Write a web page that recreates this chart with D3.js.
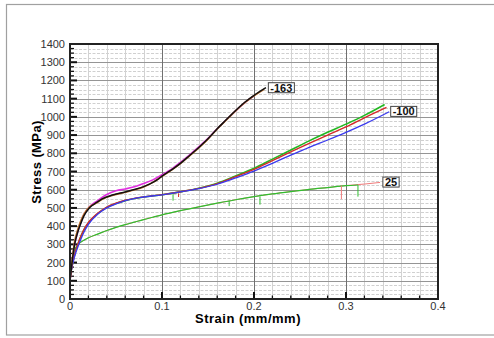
<!DOCTYPE html>
<html><head><meta charset="utf-8">
<script src="https://cdn.jsdelivr.net/npm/d3@7"></script>
<style>body{margin:0;background:#fff}svg{display:block}text{font-family:"Liberation Sans",Arial,sans-serif}</style>
</head><body><svg id="c" width="494" height="338"></svg>
<script>
// ---- data ----
const xTicks = [0, 0.1, 0.2, 0.3, 0.4];
const xTickLabels = ["0", "0.1", "0.2", "0.3", "0.4"];
const yTicks = [0,100,200,300,400,500,600,700,800,900,1000,1100,1200,1300,1400];

// -163 °C
const strainM163a = [0,0.002,0.005,0.008,0.011,0.015,0.021,0.029,0.035,0.047,0.06,0.069,0.08,0.087,0.095,0.1,0.11,0.12,0.13,0.14,0.15,0.16,0.17,0.18,0.19,0.2,0.213];
const stressM163a = [100,190,300,360,405,455,500,530,550,572,588,600,617,632,655,675,708,745,788,832,880,935,985,1035,1080,1118,1160];
const strainM163b = [0,0.002,0.005,0.008,0.011,0.015,0.021,0.03,0.04,0.05,0.06,0.07,0.08,0.09,0.1,0.11,0.12,0.13,0.14,0.15,0.16,0.17,0.18,0.19,0.2];
const stressM163b = [100,190,300,362,410,460,505,540,574,594,604,616,634,654,682,712,750,792,835,882,935,984,1033,1078,1115];
const strainM163c = [0,0.002,0.005,0.008,0.011,0.015,0.021,0.029,0.035,0.047,0.06,0.069,0.08,0.09,0.1,0.11,0.12,0.13,0.14,0.15,0.16,0.17,0.18,0.19,0.2,0.211];
const stressM163c = [100,200,315,375,420,465,505,528,548,570,586,598,615,640,673,706,743,786,830,878,933,983,1033,1078,1116,1152];

// -100 °C
const strainM100g = [0,0.003,0.006,0.01,0.015,0.02,0.03,0.04,0.05,0.06,0.08,0.1,0.12,0.14,0.16,0.18,0.2,0.22,0.24,0.26,0.28,0.3,0.32,0.342];
const stressM100g = [120,200,262,320,378,418,468,503,524,540,560,572,588,608,636,676,718,768,818,868,915,960,1008,1068];
const strainM100r = [0,0.003,0.006,0.01,0.015,0.02,0.03,0.04,0.05,0.06,0.08,0.1,0.12,0.14,0.16,0.18,0.2,0.22,0.24,0.26,0.28,0.3,0.32,0.344];
const stressM100r = [120,200,262,322,380,420,470,505,526,542,561,573,589,607,633,672,712,760,808,855,900,945,995,1052];
const strainM100b = [0,0.003,0.006,0.01,0.015,0.02,0.03,0.04,0.05,0.06,0.08,0.1,0.12,0.14,0.16,0.18,0.2,0.22,0.24,0.26,0.28,0.3,0.32,0.347];
const stressM100b = [120,195,250,305,365,410,465,500,522,540,560,572,588,606,630,665,702,745,790,833,873,915,960,1028];

// 25 °C
const strain25g = [0,0.002,0.005,0.01,0.015,0.02,0.03,0.04,0.05,0.06,0.07,0.08,0.09,0.1,0.12,0.14,0.16,0.18,0.2,0.22,0.24,0.26,0.28,0.3,0.313];
const stress25g = [100,200,268,305,322,336,356,376,393,408,422,436,449,462,485,506,526,545,562,577,590,602,612,622,626];
const strain25r = [0,0.002,0.005,0.01,0.015,0.02,0.03,0.04,0.05,0.06,0.07,0.08,0.09,0.1,0.12,0.14,0.16,0.18,0.2,0.22,0.24,0.26,0.28,0.3,0.32,0.337];
const stress25r = [100,200,268,305,322,336,356,376,393,408,422,436,449,462,485,506,526,545,562,577,590,602,612,623,631,640];

// drop spikes: strain, stress top, stress bottom
const spikeStrain = [0.112, 0.118, 0.173, 0.2065, 0.295, 0.313];
const spikeTop    = [576, 580, 540, 562, 622, 626];
const spikeBottom = [540, 560, 510, 518, 548, 562];
const spikeColor  = ["#2fbf2f", "#d42a2a", "#2fbf2f", "#2fbf2f", "#f07a7a", "#2fbf2f"];

const labels = ["-163", "-100", "25"];
const labelStrain = [0.2145, 0.3475, 0.339];
const labelStress = [1160, 1030, 642];

// ---- drawing ----
const svg = d3.select("#c");
const L = 70, R = 438, T = 44, B = 299;
const x = d3.scaleLinear().domain([0, 0.4]).range([L, R]);
const y = d3.scaleLinear().domain([0, 1400]).range([B, T]);

// outer frame
svg.append("rect").attr("x", 6.5).attr("y", 4.5).attr("width", 500).attr("height", 330.5)
  .attr("fill", "none").attr("stroke", "#a0a0a0").attr("stroke-width", 1.2);

const g = svg.append("g");
const minorY = d3.range(25, 1400, 25).filter(v => v % 100 !== 0);
const minorX = d3.range(1, 20).map(i => i * 0.02).filter((v, i) => (i + 1) % 5 !== 0);
// minor horizontal dashed lines every 25
g.selectAll(".hmin").data(minorY).join("line")
  .attr("x1", L).attr("x2", R).attr("y1", d => Math.round(y(d)) + 0.5).attr("y2", d => Math.round(y(d)) + 0.5)
  .attr("stroke", "#d0d0d0").attr("stroke-dasharray", "3,1.5").attr("stroke-width", 1);
// minor vertical lines every 0.02
g.selectAll(".vmin").data(minorX).join("line")
  .attr("y1", T).attr("y2", B).attr("x1", d => Math.round(x(d)) + 0.5).attr("x2", d => Math.round(x(d)) + 0.5)
  .attr("stroke", "#d2d2d2").attr("stroke-width", 1);
// major horizontal
g.selectAll(".hmaj").data(yTicks.slice(1, -1)).join("line")
  .attr("x1", L).attr("x2", R).attr("y1", d => Math.round(y(d)) + 0.5).attr("y2", d => Math.round(y(d)) + 0.5)
  .attr("stroke", "#959595").attr("stroke-width", 1);
// major vertical
g.selectAll(".vmaj").data(xTicks.slice(1, -1)).join("line")
  .attr("y1", T).attr("y2", B).attr("x1", d => Math.round(x(d)) + 0.5).attr("x2", d => Math.round(x(d)) + 0.5)
  .attr("stroke", "#707070").attr("stroke-width", 1);

// ticks
g.selectAll(".ytm").data(yTicks.slice(1, -1)).join("line")
  .attr("x1", L).attr("x2", L + 7).attr("y1", d => y(d)).attr("y2", d => y(d))
  .attr("stroke", "#111").attr("stroke-width", 2);
g.selectAll(".ytn").data(minorY).join("line")
  .attr("x1", L).attr("x2", L + 4).attr("y1", d => y(d)).attr("y2", d => y(d))
  .attr("stroke", "#111").attr("stroke-width", 1.3);
g.selectAll(".xtm").data(xTicks.slice(1, -1)).join("line")
  .attr("x1", d => x(d)).attr("x2", d => x(d)).attr("y1", B).attr("y2", B - 7)
  .attr("stroke", "#111").attr("stroke-width", 2);
g.selectAll(".xtn").data(minorX).join("line")
  .attr("x1", d => x(d)).attr("x2", d => x(d)).attr("y1", B).attr("y2", B - 3.5)
  .attr("stroke", "#111").attr("stroke-width", 1.3);

// curves
const line = d3.line().x(d => x(d[0])).y(d => y(d[1])).curve(d3.curveMonotoneX);
const series = [
  [strain25r, stress25r, "#f07a7a", 1],
  [strain25g, stress25g, "#2fbf2f", 1.2],
  [strainM100g, stressM100g, "#22b822", 1.6],
  [strainM100r, stressM100r, "#d42a2a", 1.4],
  [strainM100b, stressM100b, "#3a3aee", 1.3],
  [strainM163b, stressM163b, "#e030e0", 1.6],
  [strainM163c, stressM163c, "#c0702a", 1.6],
  [strainM163a, stressM163a, "#111111", 1.5]
];
series.forEach(s => {
  g.append("path").datum(s[0].map((v, i) => [v, s[1][i]])).attr("d", line)
    .attr("fill", "none").attr("stroke", s[2]).attr("stroke-width", s[3]);
});
g.selectAll(".spike").data(spikeStrain.map((v, i) => [v, spikeTop[i], spikeBottom[i], spikeColor[i]])).join("line")
  .attr("x1", d => x(d[0])).attr("x2", d => x(d[0])).attr("y1", d => y(d[1])).attr("y2", d => y(d[2]))
  .attr("stroke", d => d[3]).attr("stroke-width", 1);

// plot border
svg.append("rect").attr("x", L).attr("y", T).attr("width", R - L).attr("height", B - T)
  .attr("fill", "none").attr("stroke", "#222").attr("stroke-width", 2);

// tick labels
svg.selectAll(".yl").data(yTicks).join("text")
  .attr("x", L - 5).attr("y", d => y(d) + 4).attr("text-anchor", "end")
  .attr("font-size", 11).attr("fill", "#333").text(d => d);
svg.selectAll(".xl").data(xTicks).join("text")
  .attr("x", d => x(d)).attr("y", B + 11).attr("text-anchor", "middle")
  .attr("font-size", 11).attr("fill", "#333").text((d, i) => xTickLabels[i]);

// axis titles
svg.append("text").attr("x", 248).attr("y", 322.5).attr("text-anchor", "middle")
  .attr("font-size", 13).attr("font-weight", "bold").attr("letter-spacing", 0.5).text("Strain (mm/mm)");
svg.append("text").attr("transform", "translate(41,162) rotate(-90)").attr("text-anchor", "middle")
  .attr("font-size", 13).attr("font-weight", "bold").attr("letter-spacing", 0.4).text("Stress (MPa)");

// curve labels
labels.forEach((t, i) => {
  const tx = x(labelStrain[i]) + 1, ty = y(labelStress[i]);
  const txt = svg.append("text").attr("x", tx + 2).attr("y", ty + 4)
    .attr("font-size", 11).attr("font-weight", "bold").attr("fill", "#111").text(t);
  const bb = txt.node().getBBox();
  svg.insert("rect", "text").attr("x", bb.x - 2).attr("y", ty - 5).attr("width", bb.width + 4).attr("height", 10)
    .attr("fill", "#fff").attr("stroke", "#444").attr("stroke-width", 1);
});
</script></body></html>
